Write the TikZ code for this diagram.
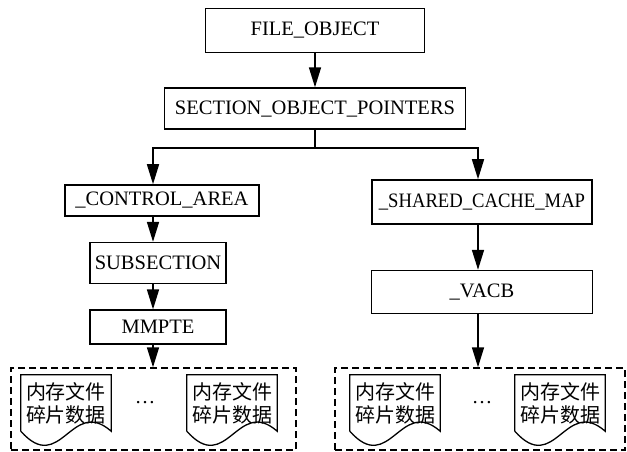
\documentclass[tikz,border=0pt]{standalone}
\usepackage{fontspec}
\usepackage{graphicx}
\setmainfont{Liberation Serif}
\newfontfamily\cjk{Noto Sans CJK SC}
\usetikzlibrary{arrows.meta,positioning}

\begin{document}
\begin{tikzpicture}[
  x=1pt, y=-1pt,
  font=\fontsize{20.5}{24}\selectfont,
  box/.style={
    rectangle,
    draw=black,
    line width=1.6pt,
    inner sep=0pt,
    align=center
  },
  group/.style={rectangle, draw=black, line width=1.5pt, dash pattern=on 7pt off 4pt},
  doc/.style={
    minimum width=90pt,
    minimum height=56pt,
    inner sep=0pt,
    align=center,
    font=\cjk\fontsize{20}{23}\selectfont
  },
  arrow/.style={-{Triangle[length=20pt,width=12pt]}, line width=1.6pt}
]
  \useasboundingbox (0,0) rectangle (627,451);

  % top chain
  \node[box, minimum width=219pt, minimum height=44pt] (fo) at (315,30.5) {FILE\_OBJECT};
  \node[box, minimum width=301pt, minimum height=41pt, below=34pt of fo] (sop) {SECTION\_OBJECT\_POINTERS};

  % bus ends
  \coordinate (lx) at (153,148);
  \coordinate (rx) at (478,148);

  % left column
  \node[box, minimum width=194pt, minimum height=31pt] (ca) at (162,200.5) {\_CONTROL\_AREA};
  \node[box, minimum width=136pt, minimum height=41pt, below=25pt of ca, xshift=-4pt] (sub) {SUBSECTION};
  \node[box, minimum width=136pt, minimum height=34pt, below=25pt of sub] (mm) {MMPTE};

  % right column
  \node[box, minimum width=220pt, minimum height=44pt] (scm) at (482,202) {\scalebox{0.91}[1]{\_SHARED\_CACHE\_MAP}};
  \node[box, minimum width=221pt, minimum height=43pt, below=45pt of scm] (vacb) {\_VACB};

  % fragment groups
  \node[group, minimum width=285pt, minimum height=82pt] (grpL) at (153.5,409) {};
  \node[group, minimum width=290pt, minimum height=82pt] (grpR) at (480,409) {};

  \node[doc] (la) at (66,403) {内存文件\\碎片数据};
  \node[doc] (lb) at (232,403) {内存文件\\碎片数据};
  \node[doc] (ra) at (395,403) {内存文件\\碎片数据};
  \node[doc] (rb) at (560,403) {内存文件\\碎片数据};
  \node (dotsL) at (145,403) {\dots};
  \node (dotsR) at (482,403) {\dots};

  \foreach \d in {la,lb,ra,rb}
    \draw[line width=1.3pt] (\d.south west) -- (\d.north west) -- (\d.north east) -- (\d.south east)
      .. controls +(-40,-35) and +(40,45) .. (\d.south west);

  \draw[arrow] (fo) -- (sop);
  \draw[arrow] (sop.south) -- (sop.south |- lx) -- (lx) -- (lx |- ca.north);
  \draw[arrow] (sop.south |- rx) -- (rx) -- (rx |- scm.north);
  \draw[arrow] (lx |- ca.south) -- (lx |- sub.north);
  \draw[arrow] (lx |- sub.south) -- (lx |- mm.north);
  \draw[arrow] (lx |- mm.south) -- (lx |- grpL.north);
  \draw[arrow] (rx |- scm.south) -- (rx |- vacb.north);
  \draw[arrow] (rx |- vacb.south) -- (rx |- grpR.north);
\end{tikzpicture}
\end{document}
